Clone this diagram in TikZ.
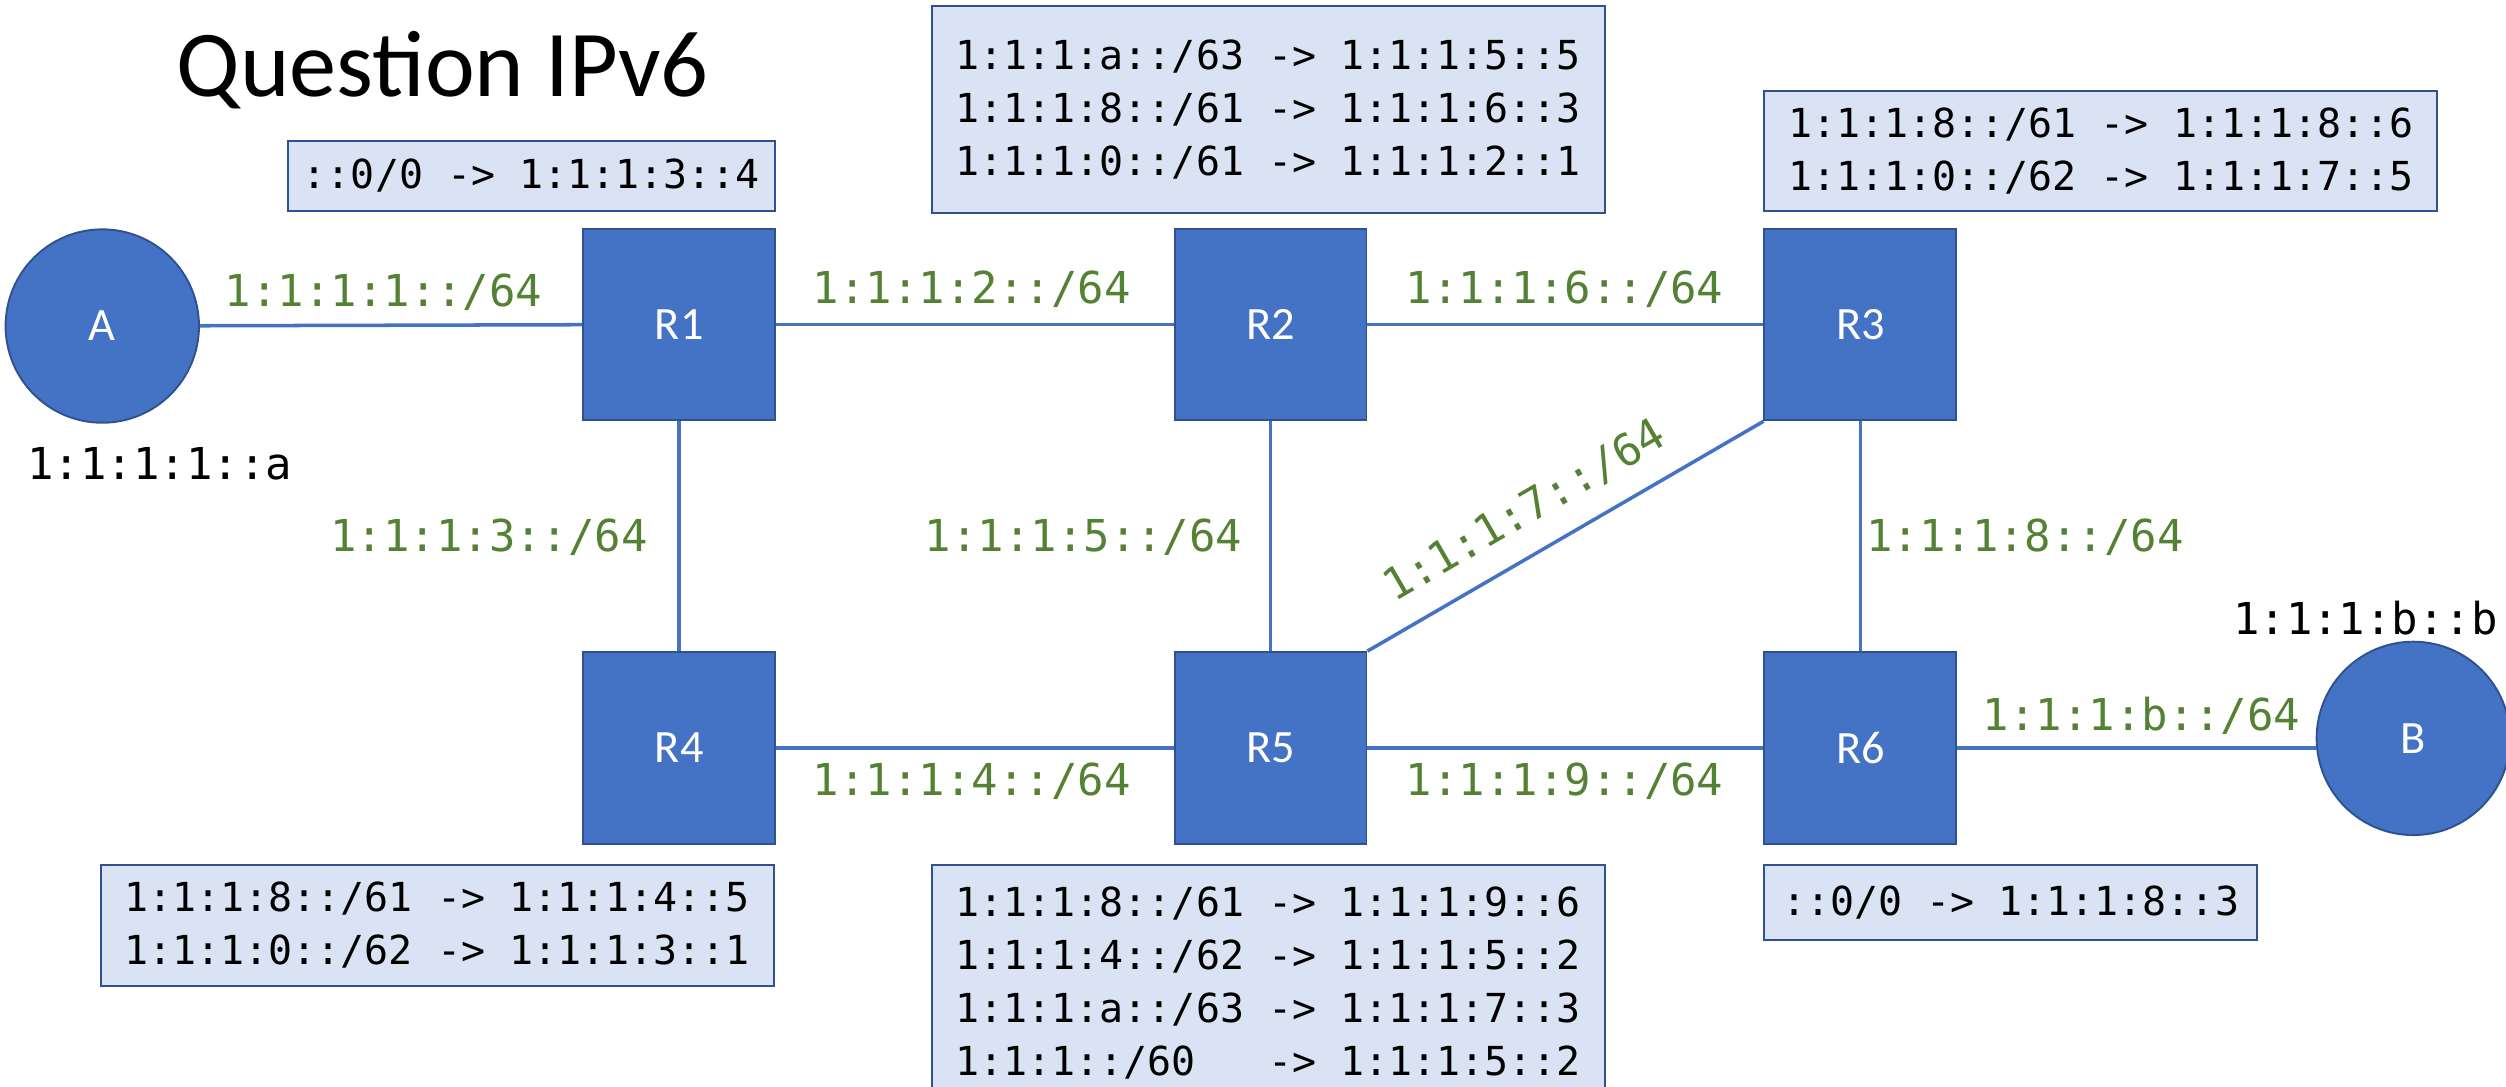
\documentclass[tikz,border=0pt]{standalone}
\usepackage{fontspec}
\setmainfont{Carlito}
\newfontfamily\addrfont{DejaVu Sans Mono}

\definecolor{rtblue}{HTML}{4472C4}
\definecolor{rtedge}{HTML}{2F528F}
\definecolor{tabfill}{HTML}{DAE3F3}
\definecolor{netgreen}{HTML}{548235}

\tikzset{
    router/.style={draw=rtedge, fill=rtblue, line width=1.2pt, minimum width=120pt,
        minimum height=120pt, text=white, font=\fontsize{29}{32}\selectfont},
    host/.style={router, circle, minimum size=121pt},
    routetable/.style={draw=rtedge, fill=tabfill, line width=1.2pt, align=left,
        inner sep=0pt, font=\addrfont\fontsize{25}{33}\selectfont},
    subnet/.style={text=netgreen, inner sep=0pt, font=\addrfont\fontsize{27.5}{30}\selectfont},
    addr/.style={inner sep=0pt, font=\addrfont\fontsize{27.5}{30}\selectfont},
    link/.style={draw=rtblue, line width=2.2pt},
}

\begin{document}
\begin{tikzpicture}[x=1pt, y=-1pt]
    \useasboundingbox (0,0) rectangle (1568,680);

    \node (title) at (277,44) {\fontsize{59}{64}\selectfont Question IPv6};

    % hosts and routers
    \node[host] (A) at (64,204) {A};
    \node[host] (B) at (1510,462) {B};
    \node[router] (R1) at (425,203) {R1};
    \node[router] (R2) at (795,203) {R2};
    \node[router] (R3) at (1164,203) {R3};
    \node[router] (R4) at (425,468) {R4};
    \node[router] (R5) at (795,468) {R5};
    \node[router] (R6) at (1164,468) {R6};

    \node[addr] (addrA) at (100,290) {1:1:1:1::a};
    \node[addr] (addrB) at (1480,387) {1:1:1:b::b};

    % links
    \draw[link] (A) -- (R1);
    \draw[link] (R1) -- (R2);
    \draw[link] (R2) -- (R3);
    \draw[link] (R1) -- (R4);
    \draw[link] (R2) -- (R5);
    \draw[link] (R3) -- (R6);
    \draw[link] (R4) -- (R5);
    \draw[link] (R5) -- (R6);
    \draw[link] (R6) -- (R6 -| B.west);
    \draw[link] (R3.south west) -- node[subnet, sloped, above=14pt, pos=0.55] (net7) {1:1:1:7::/64} (R5.north east);

    % subnets
    \node[subnet] (net1) at (240,183) {1:1:1:1::/64};
    \node[subnet] (net2) at (608,181) {1:1:1:2::/64};
    \node[subnet] (net6) at (979,181) {1:1:1:6::/64};
    \node[subnet] (net3) at (306,336) {1:1:1:3::/64};
    \node[subnet] (net5) at (678,336) {1:1:1:5::/64};
    \node[subnet] (net8) at (1267,336) {1:1:1:8::/64};
    \node[subnet] (net4) at (608,489) {1:1:1:4::/64};
    \node[subnet] (net9) at (979,489) {1:1:1:9::/64};
    \node[subnet] (netb) at (1340,448) {1:1:1:b::/64};

    % routing tables
    \node[routetable, minimum width=305pt, minimum height=44pt] (tabR1) at (332.5,110)
        {::0/0 -> 1:1:1:3::4};
    \node[routetable, minimum width=421pt, minimum height=129pt] (tabR2) at (793.5,68.5)
        {1:1:1:a::/63 -> 1:1:1:5::5\\1:1:1:8::/61 -> 1:1:1:6::3\\1:1:1:0::/61 -> 1:1:1:2::1};
    \node[routetable, minimum width=421pt, minimum height=75pt] (tabR3) at (1314.5,94.5)
        {1:1:1:8::/61 -> 1:1:1:8::6\\1:1:1:0::/62 -> 1:1:1:7::5};
    \node[routetable, minimum width=421pt, minimum height=76pt] (tabR4) at (273.5,579)
        {1:1:1:8::/61 -> 1:1:1:4::5\\1:1:1:0::/62 -> 1:1:1:3::1};
    \node[routetable, minimum width=421pt, minimum height=148pt] (tabR5) at (793.5,615)
        {1:1:1:8::/61 -> 1:1:1:9::6\\1:1:1:4::/62 -> 1:1:1:5::2\\1:1:1:a::/63 -> 1:1:1:7::3\\1:1:1::/60\ \ \ -> 1:1:1:5::2};
    \node[routetable, minimum width=308pt, minimum height=47pt] (tabR6) at (1258,564.5)
        {::0/0 -> 1:1:1:8::3};
\end{tikzpicture}
\end{document}
